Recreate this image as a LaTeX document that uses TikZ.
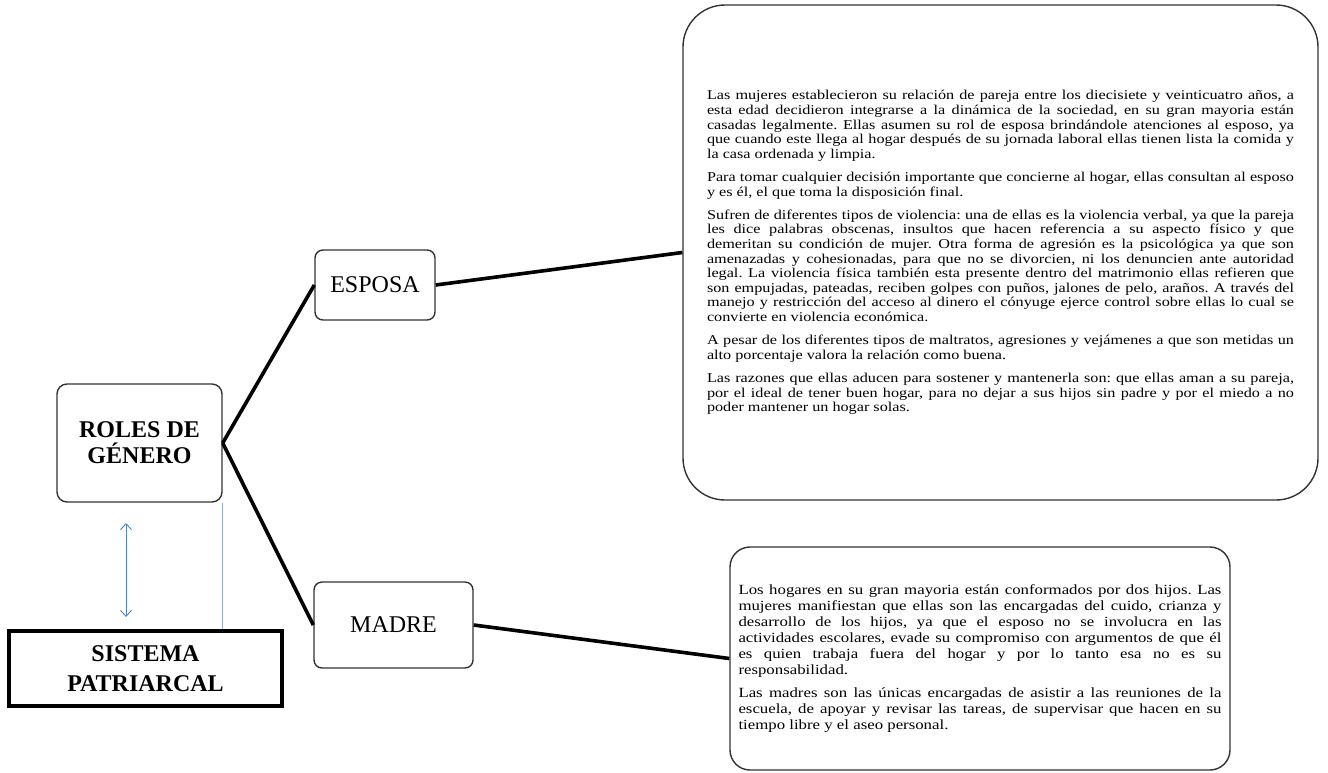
\documentclass[tikz,border=0pt]{standalone}
\usepackage{fontspec}
\setmainfont{Liberation Serif}
\newfontfamily\widetxt[FakeStretch=1.2]{Liberation Serif}
\usetikzlibrary{arrows.meta, positioning}

\definecolor{wordblue}{RGB}{79,129,189}
\definecolor{paleblue}{RGB}{140,170,205}

\begin{document}
\begin{tikzpicture}[x=1pt, y=-1pt,
			rolbox/.style={draw=black!80, line width=1.4pt, rounded corners=10pt, align=center, font=\fontsize{24}{26}\selectfont\bfseries},
			sysbox/.style={draw=black, line width=4pt, align=center, font=\fontsize{24}{30}\selectfont\bfseries},
			subbox/.style={draw=black!80, line width=1.4pt, rounded corners=8pt, font=\fontsize{24}{26}\selectfont},
			txtbox/.style={draw=black!80, line width=1.4pt, align=justify, inner xsep=0pt},
			link/.style={black, line width=3.6pt},
			dbl/.style={wordblue, line width=0.9pt, {Straight Barb[length=6pt, width=11pt]}-{Straight Barb[length=6pt, width=11pt]}}]
			\useasboundingbox (0,0) rectangle (1328,772);
			% left side
			\node[rolbox, minimum width=165pt, minimum height=118pt] (roles) at (139.5,443) {ROLES DE\\GÉNERO};
			\node[sysbox, minimum width=273pt, minimum height=75pt] (sistema) at (145.5,668.5) {SISTEMA\\PATRIARCAL};
			\coordinate (arrtop) at (126,523);
			\coordinate (arrbot) at (126,617);
			\draw[dbl] (arrtop) -- (arrbot);
			\draw[paleblue, line width=0.9pt] (roles.south east) -- (roles.south east |- sistema.north);
			% the two roles
			\node[subbox, minimum width=120pt, minimum height=70pt] (esposa) at (375,285) {ESPOSA};
			\node[subbox, minimum width=159pt, minimum height=86pt] (madre) at (393.5,625) {MADRE};
			% text boxes
			\node[txtbox, rounded corners=42pt, minimum width=635pt, minimum height=495pt, text width=587pt,
				font=\widetxt\fontsize{13.5}{14.6}\selectfont\frenchspacing] (esptxt) at (1000.5,252.5) {\parindent=0pt\parskip=8.6pt\hyphenpenalty=10000
				Las mujeres establecieron su relación de pareja entre los diecisiete y veinticuatro años, a\linebreak
				esta edad decidieron integrarse a la dinámica de la sociedad, en su gran mayoria están\linebreak
				casadas legalmente. Ellas asumen su rol de esposa brindándole atenciones al esposo, ya\linebreak
				que cuando este llega al hogar después de su jornada laboral ellas tienen lista la comida y\linebreak
				la casa ordenada y limpia.\par
				Para tomar cualquier decisión importante que concierne al hogar, ellas consultan al esposo\linebreak
				y es él, el que toma la disposición final.\par
				Sufren de diferentes tipos de violencia: una de ellas es la violencia verbal, ya que la pareja\linebreak
				les dice palabras obscenas, insultos que hacen referencia a su aspecto físico y que\linebreak
				demeritan su condición de mujer. Otra forma de agresión es la psicológica ya que son\linebreak
				amenazadas y cohesionadas, para que no se divorcien, ni los denuncien ante autoridad\linebreak
				legal. La violencia física también esta presente dentro del matrimonio ellas refieren que\linebreak
				son empujadas, pateadas, reciben golpes con puños, jalones de pelo, araños. A través del\linebreak
				manejo y restricción del acceso al dinero el cónyuge ejerce control sobre ellas lo cual se\linebreak
				convierte en violencia económica.\par
				A pesar de los diferentes tipos de maltratos, agresiones y vejámenes a que son metidas un\linebreak
				alto porcentaje valora la relación como buena.\par
				Las razones que ellas aducen para sostener y mantenerla son: que ellas aman a su pareja,\linebreak
				por el ideal de tener buen hogar, para no dejar a sus hijos sin padre y por el miedo a no\linebreak
				poder mantener un hogar solas.};
			\node[txtbox, rounded corners=20pt, minimum width=500pt, minimum height=223pt, text width=483pt,
				font=\widetxt\fontsize{14}{16}\selectfont\frenchspacing] (madtxt) at (980,658.5) {\parindent=0pt\parskip=7pt\hyphenpenalty=10000
				Los hogares en su gran mayoria están conformados por dos hijos. Las\linebreak
				mujeres manifiestan que ellas son las encargadas del cuido, crianza y\linebreak
				desarrollo de los hijos, ya que el esposo no se involucra en las\linebreak
				actividades escolares, evade su compromiso con argumentos de que él\linebreak
				es quien trabaja fuera del hogar y por lo tanto esa no es su\linebreak
				responsabilidad.\par
				Las madres son las únicas encargadas de asistir a las reuniones de la\linebreak
				escuela, de apoyar y revisar las tareas, de supervisar que hacen en su\linebreak
				tiempo libre y el aseo personal.};
			% connectors
			\draw[link] (roles.east) -- (esposa.west);
			\draw[link] (roles.east) -- (madre.west);
			\draw[link] (esposa.east) -- (esptxt.west);
			\draw[link] (madre.east) -- (madtxt.west);
		\end{tikzpicture}
\end{document}
